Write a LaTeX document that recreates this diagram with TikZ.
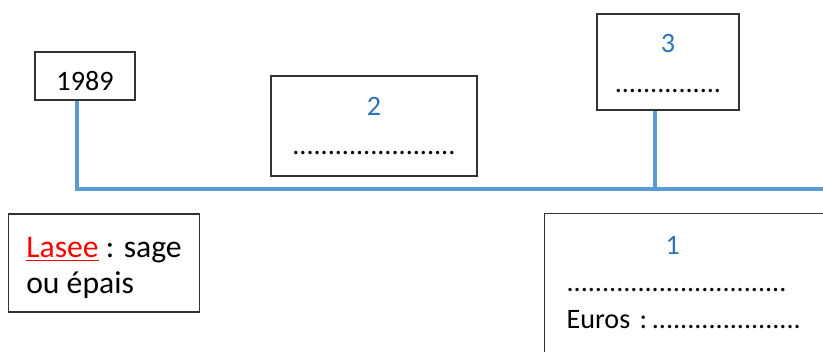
\documentclass[tikz,border=0pt]{standalone}
\usepackage{fontspec}
\setmainfont{Carlito}
\usepackage{tikz}
\usetikzlibrary{positioning,calc}
\definecolor{lineblue}{RGB}{91,155,213}
\definecolor{numblue}{RGB}{46,116,181}
\tikzset{
boxstyle/.style={
  rectangle,
  line width=0.9pt,
  draw={rgb:black,4;white,1},
  fill=white,
  align=center,
  inner sep=0pt,
  }
}
\tikzset{
timeline/.style={
  line width=3.5pt,
  draw=lineblue,
  }
}

\begin{document}
\begin{tikzpicture}[x=0.025cm,y=-0.025cm,font=\fontsize{20}{24}\selectfont]
    \useasboundingbox (0,0) rectangle (823,352);

    % boxes above the line
    \node[boxstyle, minimum width=2.5cm, minimum height=1.2cm, text height=0.75cm] (box_year) at (85,76) {1989};
    \node[boxstyle, minimum width=5.15cm, minimum height=2.5cm] (box_two) at (374,126)
        {\textcolor{numblue}{2}\\[0.15cm].......................};
    \node[boxstyle, minimum width=3.55cm, minimum height=2.4cm] (box_three) at (668,62)
        {\rule{0pt}{0.545cm}\textcolor{numblue}{3}\\[0.15cm]...............};

    % boxes below the line
    \node[boxstyle, minimum width=4.775cm, minimum height=2.45cm, align=left, font=\fontsize{22.5}{25}\selectfont] (box_lasee) at (104,263)
        {\rule{0pt}{0.75cm}\textcolor{red}{\underline{Lasee}} : sage\\ou épais};
    \node[boxstyle, anchor=north west, text width=6.4cm, inner xsep=0.55cm, minimum height=3.75cm, align=left] (box_one) at (544,213)
        {\hspace*{2.475cm}\textcolor{numblue}{1}\\[0.08cm]...............................\\[0.08cm]Euros :\,.....................\rule[-0.3cm]{0pt}{0.3cm}};

    % time line
    \coordinate (line_end) at (830,189);
    \draw[timeline] ([xshift=-0.2cm]box_year.south) |- (line_end);
    \draw[timeline] ([xshift=-0.325cm]box_three.south) -- ([xshift=-0.325cm]box_three.south |- line_end);
\end{tikzpicture}
\end{document}
